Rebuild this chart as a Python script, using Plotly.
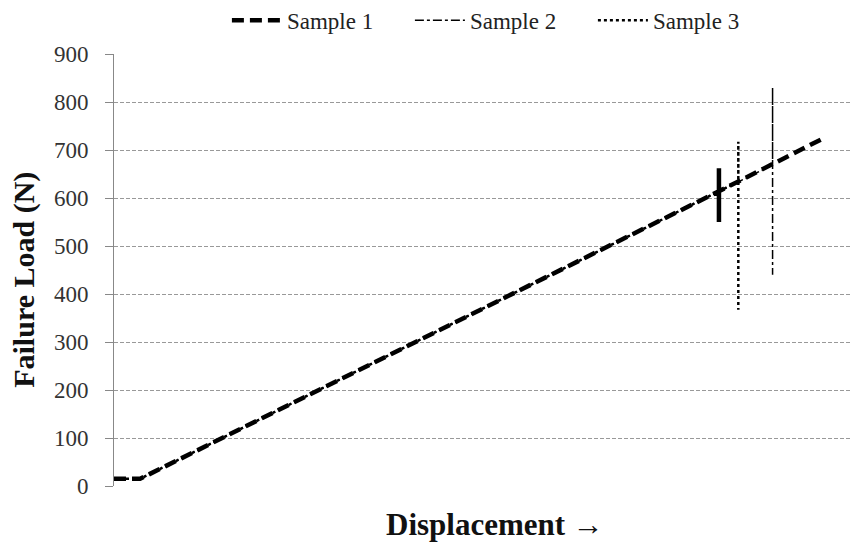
import plotly.graph_objects as go

# Displacement (arbitrary units, 0-100) and failure load (N)
s1_x = [0, 3.5, 81.2, 81.2, 81.2, 81.2, 95.3]
s1_y = [15, 15, 614, 662, 550, 614, 725]
s2_x = [0, 3.5, 88.4, 88.4, 88.4]
s2_y = [15, 15, 669, 830, 440]
s3_x = [0, 3.5, 83.8, 83.8, 83.8]
s3_y = [15, 15, 634, 717, 367]
y_ticks = [0, 100, 200, 300, 400, 500, 600, 700, 800, 900]

font = "Liberation Serif"

fig = go.Figure()
fig.add_trace(go.Scatter(x=s1_x, y=s1_y, mode="lines", name="Sample 1",
                         line=dict(color="black", width=4.5, dash="12px,6px")))
fig.add_trace(go.Scatter(x=s2_x, y=s2_y, mode="lines", name="Sample 2",
                         line=dict(color="black", width=1.5, dash="dashdot")))
fig.add_trace(go.Scatter(x=s3_x, y=s3_y, mode="lines", name="Sample 3",
                         line=dict(color="black", width=2.5, dash="dot")))

fig.update_layout(
    width=851, height=538,
    margin=dict(l=106, r=0, t=46, b=60),
    paper_bgcolor="white", plot_bgcolor="white",
    font=dict(family=font, size=23, color="#222"),
    legend=dict(orientation="h", x=0.52, xanchor="center", y=0.977, yanchor="middle",
                yref="container", font=dict(family=font, size=23, color="#222"),
                itemwidth=50, entrywidth=118, entrywidthmode="pixels", tracegroupgap=0),
    showlegend=True,
    annotations=[
        dict(text="<b>Displacement →</b>", xref="paper", yref="paper", x=0.511, y=-0.09,
             xanchor="center", yanchor="middle", showarrow=False,
             font=dict(family=font, size=31, color="#111")),
        dict(text="<b>Failure Load (N)</b>", xref="paper", yref="paper", x=-0.121, y=0.477,
             xanchor="center", yanchor="middle", showarrow=False, textangle=-90,
             font=dict(family=font, size=30, color="#111")),
    ],
)
fig.update_xaxes(range=[0, 100], showticklabels=False, showgrid=False, zeroline=False,
                 showline=False, ticks="", automargin=False)
fig.update_yaxes(range=[0, 900], tickvals=y_ticks, showgrid=True, gridcolor="#999",
                 griddash="4px,2px", gridwidth=1, zeroline=False, showline=True,
                 linecolor="#888", linewidth=1, ticks="outside", ticklen=8, tickcolor="#888",
                 ticklabelstandoff=12,
                 tickfont=dict(family=font, size=23, color="#333"), automargin=False)

fig.write_html("out.html")
